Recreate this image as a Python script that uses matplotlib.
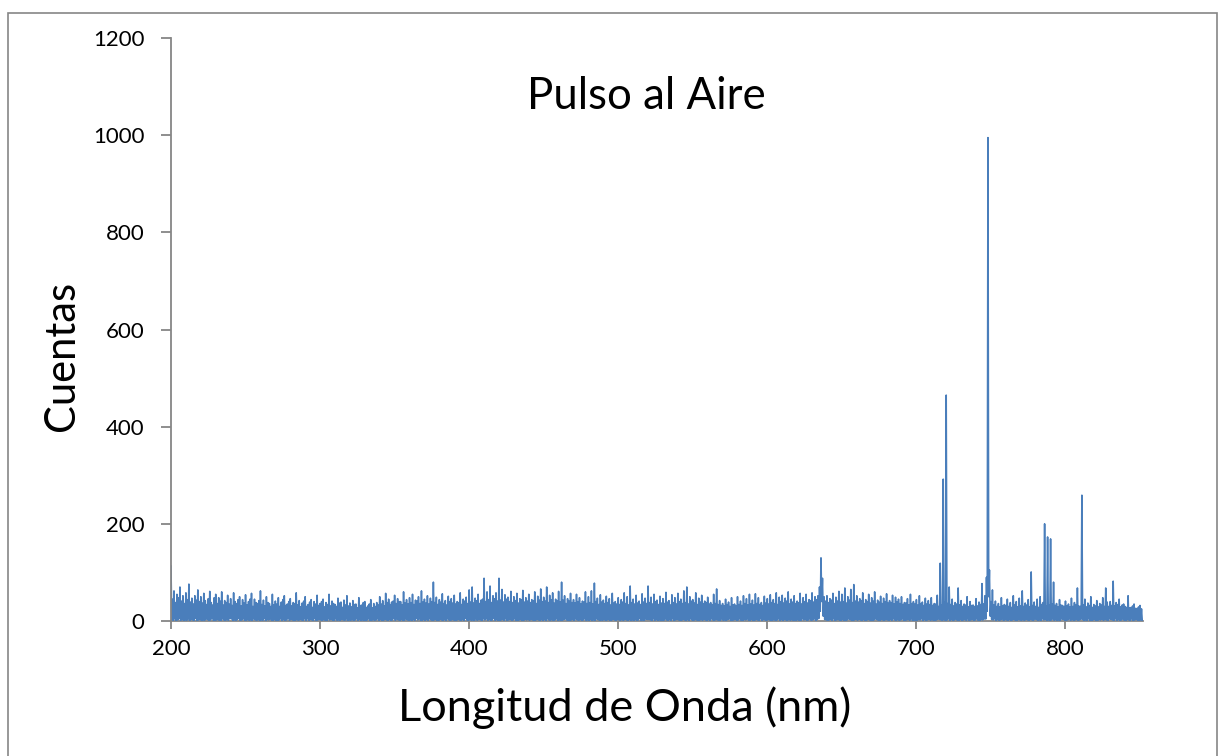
import numpy as np
import matplotlib
matplotlib.use("Agg")
import matplotlib.pyplot as plt
from matplotlib.patches import Rectangle

# ---------------- data ----------------
# Spectrum read at two interleaved sample sets:
#   counts_high -> samples at integer nm (200, 201, ... 851)
#   counts_low  -> samples at half nm   (200.5, 201.5, ... 851.5)
start_nm = 200
counts_high = [
    113, 45, 62, 38, 55, 48, 70, 41, 52, 36,    # 200
    58, 44, 76, 39, 47, 35, 52, 43, 64, 40,     # 210
    50, 37, 57, 42, 34, 46, 61, 38, 33, 48,     # 220
    55, 36, 48, 41, 60, 33, 42, 38, 53, 35,     # 230
    46, 32, 58, 40, 36, 44, 50, 31, 44, 37,     # 240
    54, 33, 40, 45, 57, 30, 45, 38, 36, 42,     # 250
    62, 34, 43, 31, 50, 38, 36, 30, 55, 33,     # 260
    41, 35, 48, 30, 39, 44, 52, 32, 35, 40,     # 270
    46, 31, 38, 36, 58, 33, 42, 29, 37, 41,     # 280
    50, 30, 34, 39, 44, 28, 40, 35, 53, 32,     # 290
    36, 40, 45, 29, 38, 34, 55, 31, 41, 36,     # 300
    34, 30, 47, 37, 39, 28, 43, 33, 52, 31,     # 310
    37, 29, 42, 34, 35, 27, 48, 32, 33, 38,     # 320
    40, 28, 31, 35, 44, 27, 36, 30, 38, 33,     # 330
    50, 35, 42, 31, 57, 38, 45, 34, 39, 41,     # 340
    53, 36, 46, 40, 40, 33, 60, 37, 44, 35,     # 350
    48, 38, 55, 34, 43, 41, 50, 36, 62, 39,     # 360
    45, 37, 52, 35, 47, 40, 80, 38, 49, 34,     # 370
    44, 39, 56, 36, 42, 33, 51, 40, 46, 37,     # 380
    53, 35, 40, 38, 58, 34, 45, 41, 49, 36,     # 390
    64, 39, 70, 37, 47, 42, 55, 36, 43, 45,     # 400
    88, 40, 60, 44, 72, 38, 52, 46, 58, 41,     # 410
    88, 43, 65, 39, 54, 45, 49, 40, 61, 38,     # 420
    50, 42, 57, 37, 46, 44, 63, 39, 48, 41,     # 430
    55, 38, 44, 42, 60, 36, 51, 43, 66, 40,     # 440
    49, 41, 70, 38, 53, 44, 58, 37, 45, 42,     # 450
    61, 39, 80, 43, 52, 36, 46, 41, 57, 38,     # 460
    44, 37, 55, 40, 48, 35, 41, 39, 60, 36,     # 470
    50, 38, 62, 35, 78, 40, 47, 34, 54, 39,     # 480
    43, 36, 51, 38, 46, 33, 57, 37, 40, 35,     # 490
    48, 34, 44, 39, 58, 36, 50, 33, 72, 38,     # 500
    45, 35, 53, 37, 41, 34, 56, 39, 47, 36,     # 510
    72, 38, 49, 35, 55, 40, 43, 34, 51, 37,     # 520
    46, 36, 59, 39, 42, 33, 54, 38, 48, 35,     # 530
    57, 40, 45, 36, 62, 38, 70, 35, 50, 41,     # 540
    44, 37, 58, 34, 47, 39, 53, 36, 41, 38,     # 550
    49, 35, 38, 33, 55, 36, 66, 34, 42, 32,     # 560
    36, 31, 45, 34, 39, 30, 48, 33, 35, 31,     # 570
    50, 34, 41, 32, 52, 36, 46, 33, 55, 35,     # 580
    43, 33, 56, 36, 48, 34, 38, 32, 51, 37,     # 590
    46, 35, 54, 38, 44, 36, 58, 34, 49, 40,     # 600
    53, 37, 47, 41, 60, 35, 45, 39, 52, 36,     # 610
    41, 38, 57, 35, 48, 40, 55, 37, 44, 42,     # 620
    58, 39, 50, 44, 52, 70, 130, 88, 50, 41,    # 630
    52, 38, 46, 43, 57, 36, 49, 41, 61, 39,     # 640
    55, 40, 68, 37, 50, 43, 65, 38, 75, 41,     # 650
    52, 39, 46, 42, 58, 36, 44, 40, 55, 37,     # 660
    48, 41, 60, 35, 43, 39, 51, 36, 47, 40,     # 670
    56, 37, 42, 38, 53, 35, 49, 39, 45, 36,     # 680
    50, 34, 38, 37, 46, 33, 55, 36, 40, 35,     # 690
    44, 33, 52, 36, 39, 32, 47, 35, 42, 34,     # 700
    48, 32, 36, 35, 53, 30, 119, 33, 292, 38,   # 710
    465, 36, 70, 34, 45, 31, 38, 35, 68, 33,    # 720
    42, 30, 35, 33, 50, 29, 40, 32, 33, 30,     # 730
    46, 31, 39, 34, 77, 35, 52, 90, 995, 105,   # 740
    40, 64, 33, 41, 30, 36, 29, 48, 31, 34,     # 750
    32, 45, 30, 38, 28, 52, 33, 40, 29, 47,     # 760
    31, 62, 30, 37, 33, 44, 29, 101, 32, 39,    # 770
    30, 45, 28, 50, 34, 38, 200, 31, 173, 33,   # 780
    169, 35, 80, 32, 36, 29, 44, 33, 32, 30,    # 790
    41, 31, 35, 29, 47, 30, 38, 33, 68, 31,     # 800
    30, 259, 33, 45, 29, 37, 32, 50, 28, 34,    # 810
    31, 42, 29, 36, 33, 48, 30, 68, 39, 30,     # 820
    40, 32, 82, 31, 38, 34, 45, 29, 33, 35,     # 830
    30, 28, 52, 27, 28, 31, 35, 26, 26, 29,     # 840
    32, 25,                                     # 850
]
counts_low = [
    3, 1, 4, 0, 2, 5, 1, 3, 0, 2,       # 200.5
    1, 4, 0, 3, 2, 1, 5, 0, 2, 3,       # 210.5
    0, 2, 1, 4, 3, 0, 2, 5, 1, 0,       # 220.5
    2, 3, 0, 1, 4, 2, 0, 3, 1, 5,       # 230.5
    4, 0, 2, 1, 3, 5, 0, 2, 4, 1,       # 240.5
    0, 3, 1, 2, 0, 4, 2, 1, 3, 0,       # 250.5
    2, 1, 5, 0, 3, 2, 4, 1, 0, 3,       # 260.5
    1, 0, 2, 4, 1, 3, 0, 2, 5, 1,       # 270.5
    3, 2, 0, 1, 4, 0, 3, 2, 1, 4,       # 280.5
    0, 4, 1, 3, 2, 1, 5, 0, 2, 3,       # 290.5
    2, 0, 3, 1, 0, 4, 2, 3, 1, 0,       # 300.5
    4, 1, 2, 0, 3, 2, 1, 4, 0, 2,       # 310.5
    1, 3, 0, 2, 4, 1, 3, 0, 2, 1,       # 320.5
    0, 2, 4, 1, 0, 3, 1, 2, 4, 0,       # 330.5
    3, 1, 0, 4, 2, 0, 3, 1, 2, 5,       # 340.5
    1, 4, 2, 0, 3, 1, 0, 4, 2, 1,       # 350.5
    2, 0, 3, 1, 5, 2, 4, 0, 1, 3,       # 360.5
    0, 3, 1, 4, 2, 0, 2, 3, 1, 0,       # 370.5
    4, 2, 0, 3, 1, 4, 2, 0, 3, 2,       # 380.5
    1, 0, 4, 2, 0, 3, 1, 5, 2, 0,       # 390.5
    3, 1, 2, 0, 4, 1, 3, 2, 0, 4,       # 400.5
    2, 4, 1, 3, 0, 2, 5, 1, 3, 0,       # 410.5
    0, 2, 3, 1, 4, 0, 2, 3, 1, 2,       # 420.5
    4, 1, 0, 2, 3, 1, 0, 4, 2, 3,       # 430.5
    1, 3, 2, 0, 1, 4, 2, 0, 3, 1,       # 440.5
    3, 0, 4, 2, 1, 3, 0, 2, 4, 0,       # 450.5
    2, 1, 0, 3, 4, 2, 1, 0, 2, 3,       # 460.5
    0, 4, 2, 1, 3, 0, 2, 4, 1, 2,       # 470.5
    1, 3, 0, 2, 1, 4, 3, 0, 2, 1,       # 480.5
    4, 0, 2, 3, 0, 1, 4, 2, 1, 3,       # 490.5
    2, 1, 3, 0, 4, 2, 1, 3, 0, 2,       # 500.5
    0, 3, 1, 2, 5, 0, 2, 1, 4, 3,       # 510.5
    3, 2, 0, 4, 1, 3, 0, 2, 1, 0,       # 520.5
    1, 4, 2, 0, 3, 1, 4, 0, 2, 3,       # 530.5
    2, 0, 1, 3, 2, 0, 3, 1, 4, 2,       # 540.5
    0, 3, 2, 1, 0, 4, 1, 3, 2, 0,       # 550.5
    3, 1, 4, 2, 0, 3, 2, 0, 1, 4,       # 560.5
    1, 2, 0, 3, 4, 1, 0, 2, 3, 1,       # 570.5
    2, 4, 1, 0, 3, 2, 4, 1, 0, 3,       # 580.5
    0, 1, 3, 2, 0, 4, 1, 3, 2, 0,       # 590.5
    4, 2, 0, 1, 3, 0, 2, 4, 1, 3,       # 600.5
    1, 3, 2, 0, 4, 1, 3, 0, 2, 1,       # 610.5
    3, 0, 1, 4, 2, 3, 0, 2, 4, 1,       # 620.5
    2, 4, 0, 3, 5, 20, 40, 10, 3, 2,    # 630.5
    0, 2, 3, 1, 4, 0, 2, 3, 1, 0,       # 640.5
    3, 1, 0, 2, 4, 3, 1, 0, 2, 4,       # 650.5
    1, 4, 2, 0, 3, 1, 0, 4, 2, 1,       # 660.5
    0, 2, 4, 3, 1, 0, 3, 2, 0, 3,       # 670.5
    2, 0, 3, 1, 4, 2, 0, 3, 1, 2,       # 680.5
    4, 1, 0, 2, 3, 1, 4, 0, 2, 0,       # 690.5
    1, 3, 2, 4, 0, 3, 1, 2, 4, 1,       # 700.5
    3, 0, 1, 2, 4, 3, 2, 1, 3, 0,       # 710.5
    2, 4, 1, 3, 0, 2, 4, 1, 0, 3,       # 720.5
    0, 2, 3, 1, 4, 0, 2, 3, 1, 2,       # 730.5
    4, 1, 0, 3, 2, 4, 4, 20, 50, 10,    # 740.5
    3, 2, 4, 0, 3, 1, 2, 4, 0, 3,       # 750.5
    2, 0, 3, 1, 2, 4, 0, 1, 3, 2,       # 760.5
    1, 3, 0, 4, 2, 0, 3, 2, 1, 4,       # 770.5
    3, 1, 2, 0, 4, 2, 3, 1, 2, 0,       # 780.5
    2, 4, 1, 3, 0, 2, 1, 4, 3, 1,       # 790.5
    0, 2, 4, 1, 3, 0, 2, 3, 1, 2,       # 800.5
    4, 3, 1, 2, 0, 4, 1, 0, 2, 3,       # 810.5
    1, 0, 3, 2, 4, 1, 3, 2, 0, 4,       # 820.5
    3, 2, 0, 4, 1, 3, 0, 2, 4, 1,       # 830.5
    0, 3, 2, 1, 4, 0, 2, 3, 1, 0,       # 840.5
    2, 1,                               # 850.5
]

x_ticks = [200, 300, 400, 500, 600, 700, 800]
y_ticks = [0, 200, 400, 600, 800, 1000, 1200]
title = "Pulso al Aire"
x_label = "Longitud de Onda (nm)"
y_label = "Cuentas"

# interleave the two sample sets in wavelength order
n = len(counts_high)
wl_high = start_nm + np.arange(n)
wl_low = wl_high + 0.5
wavelength = np.column_stack([wl_high, wl_low]).ravel()
counts = np.column_stack([counts_high, counts_low]).ravel()

# ---------------- figure ----------------
W, H = 1218, 756
fig = plt.figure(figsize=(W / 100, H / 100), dpi=100)
plt.rcParams['font.family'] = ['Lato', 'DejaVu Sans']

# outer chart frame
fig.patches.append(Rectangle((8 / W, -0.05), (1217 - 8) / W, (756 - 13) / H + 0.05,
                             transform=fig.transFigure, fill=False,
                             edgecolor='#868686', linewidth=1.2))

ax = fig.add_axes([171 / W, 1 - 621 / H, (1143 - 171) / W, (621 - 38) / H])
ax.plot(wavelength, counts, color='#4A7EBB', linewidth=1.15)
ax.set_xlim(200, 852)
ax.set_ylim(0, 1200)
ax.set_xticks(x_ticks)
ax.set_yticks(y_ticks)

for s in ['top', 'right']:
    ax.spines[s].set_visible(False)
for s in ['left', 'bottom']:
    ax.spines[s].set_color('#868686')
    ax.spines[s].set_linewidth(1.3)
ax.spines['bottom'].set_zorder(0)

ax.tick_params(axis='y', direction='out', length=7, width=1.3, color='#868686',
               labelsize=16, pad=12, labelcolor='black')
ax.tick_params(axis='x', direction='out', length=6, width=1.3, color='#868686',
               labelsize=16, pad=7, labelcolor='black')

ax.text(0.489, 0.899, title, transform=ax.transAxes, ha='center', va='center',
        fontsize=31.5, color='black')
fig.text(62 / W, 1 - 356 / H, y_label, rotation=90, ha='center', va='center',
         fontsize=30, color='black')
fig.text(625 / W, 1 - 708 / H, x_label, ha='center', va='center',
         fontsize=32.5, color='black')

fig.savefig('out.png', dpi=100)
